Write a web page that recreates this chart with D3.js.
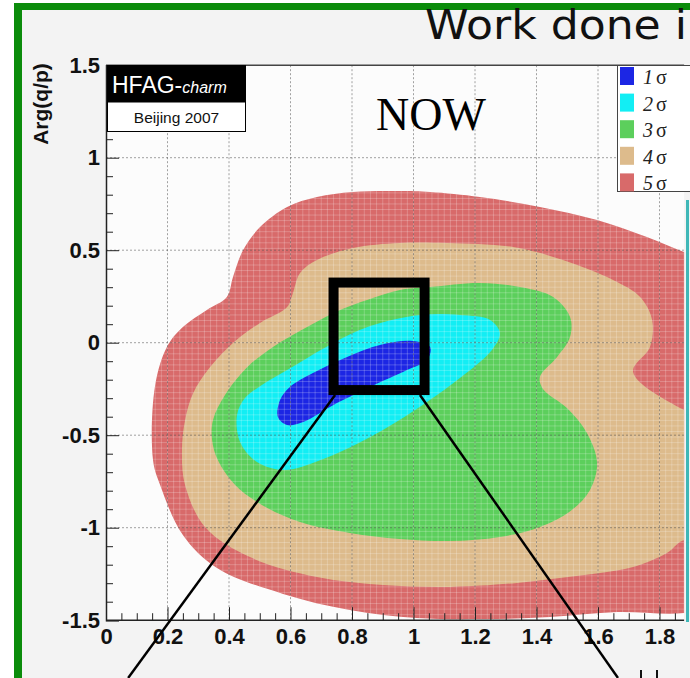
<!DOCTYPE html>
<html><head><meta charset="utf-8">
<script src="https://cdn.jsdelivr.net/npm/d3@7"></script>
<style>
html,body{margin:0;padding:0;background:#fff;}
svg{display:block;}
</style></head><body>
<svg id="chart" width="690" height="678"></svg>
<script>
// Confidence-level regions in the (|q/p|, Arg(q/p)) plane, outline points [x, y]
const sigma5 = [[0.153,-0.636],[0.159,-0.239],[0.198,-0.023],[0.250,0.085],[0.328,0.177],[0.393,0.247],[0.413,0.355],[0.446,0.501],[0.501,0.625],[0.589,0.734],[0.686,0.788],[0.803,0.815],[0.956,0.820],[1.054,0.815],[1.216,0.788],[1.411,0.734],[1.597,0.663],[1.759,0.571],[1.880,0.490],[2.05,0.40],[2.05,-1.40],[1.880,-1.461],[1.662,-1.456],[1.444,-1.483],[1.226,-1.494],[1.011,-1.488],[0.793,-1.445],[0.576,-1.358],[0.361,-1.218],[0.250,-1.040],[0.176,-0.769]];
const sigma4 = [[0.247,-0.580],[0.257,-0.420],[0.283,-0.274],[0.338,-0.133],[0.413,-0.002],[0.501,0.107],[0.589,0.193],[0.608,0.269],[0.631,0.377],[0.686,0.447],[0.803,0.512],[0.956,0.539],[1.109,0.539],[1.324,0.517],[1.486,0.447],[1.649,0.339],[1.737,0.247],[1.776,0.123],[1.769,-0.023],[1.714,-0.158],[1.880,-0.364],[2.05,-0.47],[2.05,-1.01],[1.876,-1.069],[1.824,-1.137],[1.714,-1.213],[1.607,-1.245],[1.476,-1.272],[1.337,-1.299],[1.119,-1.320],[0.901,-1.310],[0.686,-1.267],[0.468,-1.159],[0.322,-0.996],[0.257,-0.769]];
const sigma3 = [[0.348,-0.418],[0.387,-0.283],[0.459,-0.133],[0.543,-0.023],[0.654,0.085],[0.761,0.177],[0.849,0.231],[0.956,0.285],[1.054,0.301],[1.216,0.323],[1.346,0.301],[1.454,0.247],[1.509,0.139],[1.509,0.031],[1.467,-0.077],[1.411,-0.185],[1.421,-0.250],[1.499,-0.353],[1.564,-0.488],[1.597,-0.650],[1.574,-0.796],[1.515,-0.904],[1.411,-0.996],[1.281,-1.050],[1.119,-1.072],[0.956,-1.061],[0.793,-1.028],[0.631,-0.969],[0.507,-0.877],[0.420,-0.769],[0.364,-0.636],[0.345,-0.526]];
const sigma2 = [[0.426,-0.391],[0.452,-0.299],[0.507,-0.229],[0.589,-0.148],[0.728,-0.012],[0.859,0.090],[1.021,0.150],[1.151,0.150],[1.249,0.123],[1.281,0.052],[1.255,-0.039],[1.151,-0.191],[1.005,-0.364],[0.859,-0.510],[0.696,-0.636],[0.582,-0.688],[0.491,-0.645],[0.436,-0.537]];
const sigma1 = [[0.559,-0.402],[0.566,-0.310],[0.598,-0.239],[0.673,-0.164],[0.784,-0.077],[0.891,-0.012],[0.998,0.009],[1.054,-0.023],[1.044,-0.094],[0.979,-0.148],[0.859,-0.239],[0.751,-0.326],[0.641,-0.429],[0.589,-0.445]];

const levelNumbers = ["1","2","3","4","5"];
const levelColors = ["#1c26e4","#12eef4","#5ccf5c","#ddbb8c","#d86a6a"];
const regions = [sigma5, sigma4, sigma3, sigma2, sigma1];
const regionColors = ["#d86a6a","#ddbb8c","#5ccf5c","#12eef4","#1c26e4"];

const xTicks = [0,0.2,0.4,0.6,0.8,1,1.2,1.4,1.6,1.8];
const yTicks = [-1.5,-1,-0.5,0,0.5,1,1.5];

// highlighted zoom window and its guide lines (data units)
const zoomBox = [0.74, -0.256, 1.036, 0.325];
const guideLeft = [[0.745,-0.283],[0.072,-1.812]];
const guideRight = [[1.021,-0.283],[1.665,-1.812]];

const svg = d3.select("#chart");
const W = 690, H = 678;

// slide background and green frame
svg.append("rect").attr("width", W).attr("height", H).attr("fill", "#ffffff");
svg.append("rect").attr("x", 21).attr("y", 10).attr("width", W - 21).attr("height", H - 10).attr("fill", "#f3f3f3");
svg.append("rect").attr("x", 14).attr("y", 3).attr("width", 8).attr("height", H - 3).attr("fill", "#0b8c0b");
svg.append("rect").attr("x", 14).attr("y", 3).attr("width", W - 14).attr("height", 7).attr("fill", "#0b8c0b");

const x = d3.scaleLinear().domain([0, 1.9]).range([106, 106 + 1.9 * 307.5]);
const y = d3.scaleLinear().domain([-1.5, 1.5]).range([620.2, 65.2]);
const xMax = 1.88;

// plot area
svg.append("rect").attr("x", x(0)).attr("y", y(1.5)).attr("width", x(xMax) - x(0)).attr("height", y(-1.5) - y(1.5)).attr("fill", "#fcfcfc");

const defs = svg.append("defs");
defs.append("clipPath").attr("id", "plotClip").append("rect")
  .attr("x", x(0)).attr("y", y(1.5)).attr("width", x(xMax) - x(0)).attr("height", y(-1.5) - y(1.5));

const line = d3.line().x(d => x(d[0])).y(d => y(d[1])).curve(d3.curveCatmullRomClosed.alpha(0.5));
defs.append("clipPath").attr("id", "outerClip").append("path").attr("d", line(sigma5));

const plot = svg.append("g").attr("clip-path", "url(#plotClip)");
plot.selectAll("path.region").data(regions).join("path")
  .attr("class", "region").attr("d", d => line(d)).attr("fill", (d, i) => regionColors[i]);

// histogram bin edges showing faintly through the filled regions
const bins = plot.append("g").attr("clip-path", "url(#outerClip)")
  .attr("stroke", "#ffffff").attr("stroke-opacity", 0.22).attr("stroke-width", 1);
bins.selectAll("line.bx").data(d3.range(0, 96).map(i => i * 0.02)).join("line")
  .attr("x1", d => x(d)).attr("x2", d => x(d)).attr("y1", y(1.5)).attr("y2", y(-1.5));
bins.selectAll("line.by").data(d3.range(0, 101).map(i => -1.5 + i * 0.03)).join("line")
  .attr("y1", d => y(d)).attr("y2", d => y(d)).attr("x1", x(0)).attr("x2", x(2));

// dotted grid
const grid = plot.append("g").attr("stroke", "#555").attr("stroke-opacity", 0.55)
  .attr("stroke-dasharray", "2,2").attr("stroke-width", 1);
grid.selectAll("line.gx").data(xTicks.slice(1)).join("line")
  .attr("x1", d => x(d)).attr("x2", d => x(d)).attr("y1", y(1.5)).attr("y2", y(-1.5));
grid.selectAll("line.gy").data(yTicks.slice(1, -1)).join("line")
  .attr("y1", d => y(d)).attr("y2", d => y(d)).attr("x1", x(0)).attr("x2", x(xMax));

// frame top
svg.append("line").attr("x1", x(0)).attr("x2", x(xMax)).attr("y1", y(1.5)).attr("y2", y(1.5)).attr("stroke", "#444").attr("stroke-width", 1.5);

const fontAxis = "'Liberation Sans', Arial, Helvetica, sans-serif";

// y axis
const yMinor = d3.range(-15, 16).map(i => i / 10).filter(v => !yTicks.some(t => Math.abs(t - v) < 1e-9));
const yAx = svg.append("g").attr("transform", `translate(${x(0)},0)`)
  .call(d3.axisLeft(y).tickValues(yTicks).tickSize(-13).tickPadding(6).tickFormat(d => String(d)));
svg.append("g").attr("transform", `translate(${x(0)},0)`)
  .call(d3.axisLeft(y).tickValues(yMinor).tickSize(-7).tickFormat(""))
  .call(g => g.select(".domain").remove());

// x axis
const xMinor = d3.range(1, 38).map(i => i * 0.05).filter(v => !xTicks.some(t => Math.abs(t - v) < 1e-9));
const xAx = svg.append("g").attr("transform", `translate(0,${y(-1.5)})`)
  .call(d3.axisBottom(x).tickValues(xTicks).tickSize(-13).tickPadding(8).tickFormat(d => String(d)));
svg.append("g").attr("transform", `translate(0,${y(-1.5)})`)
  .call(d3.axisBottom(x).tickValues(xMinor).tickSize(-7).tickFormat(""))
  .call(g => g.select(".domain").remove());
xAx.select(".domain").attr("d", `M${x(0)},0H${x(xMax)}`);

svg.selectAll(".tick line").attr("stroke", "#222");
svg.selectAll(".domain").attr("stroke", "#222").attr("stroke-width", 1.5);
[yAx, xAx].forEach(a => a.selectAll("text").attr("font-family", fontAxis).attr("font-size", 22).attr("font-weight", "bold").attr("fill", "#111"));

// y title
svg.append("text").attr("transform", `translate(48,${y(1.5) - 2}) rotate(-90)`)
  .attr("text-anchor", "end").attr("font-family", fontAxis).attr("font-weight", "bold")
  .attr("font-size", 21).attr("fill", "#111").text("Arg(q/p)");

// HFAG label box
svg.append("rect").attr("x", 107).attr("y", 65).attr("width", 139).attr("height", 37).attr("fill", "#000");
const hf = svg.append("text").attr("x", 112).attr("y", 93).attr("fill", "#fff").attr("font-family", fontAxis);
hf.append("tspan").attr("font-size", 23).text("HFAG-");
hf.append("tspan").attr("font-size", 16).attr("font-style", "italic").text("charm");
svg.append("rect").attr("x", 107.5).attr("y", 102).attr("width", 138).attr("height", 29.5).attr("fill", "#fff").attr("stroke", "#000");
svg.append("text").attr("x", 176.5).attr("y", 123).attr("text-anchor", "middle").attr("font-family", fontAxis)
  .attr("font-size", 15.5).attr("fill", "#111").text("Beijing 2007");

// NOW
svg.append("text").attr("x", 431).attr("y", 130).attr("text-anchor", "middle")
  .attr("font-family", "'Liberation Serif', 'Times New Roman', serif").attr("font-size", 46).attr("fill", "#000").text("NOW");

// legend
const lg = svg.append("g");
lg.append("rect").attr("x", 617.5).attr("y", 65.5).attr("width", 90).attr("height", 126).attr("fill", "#fff").attr("stroke", "#444");
const entries = lg.selectAll("g.entry").data(levelNumbers).join("g").attr("class", "entry")
  .attr("transform", (d, i) => `translate(0,${i * 26.6})`);
entries.append("rect").attr("x", 620).attr("y", 67).attr("width", 14).attr("height", 18).attr("fill", (d, i) => levelColors[i]);
const lt = entries.append("text").attr("x", 643).attr("y", 84)
  .attr("font-family", "'Liberation Serif', 'Times New Roman', serif").attr("font-size", 20).attr("fill", "#222");
lt.append("tspan").attr("font-style", "italic").text(d => d);
lt.append("tspan").attr("dx", 3).text("σ");

// highlighted window with guides
svg.append("rect")
  .attr("x", x(zoomBox[0])).attr("y", y(zoomBox[3]))
  .attr("width", x(zoomBox[2]) - x(zoomBox[0])).attr("height", y(zoomBox[1]) - y(zoomBox[3]))
  .attr("fill", "none").attr("stroke", "#000").attr("stroke-width", 10);
const guide = d3.line().x(d => x(d[0])).y(d => y(d[1]));
[guideLeft, guideRight].forEach(g => svg.append("path").attr("d", guide(g)).attr("stroke", "#000").attr("stroke-width", 2.5).attr("fill", "none"));

// edge of the neighbouring panel
svg.append("line").attr("x1", 687.5).attr("x2", 687.5).attr("y1", 200).attr("y2", 622).attr("stroke", "#3fb7b7").attr("stroke-width", 3);
svg.append("line").attr("x1", 641).attr("x2", 641).attr("y1", 670).attr("y2", 678).attr("stroke", "#111").attr("stroke-width", 2);
svg.append("line").attr("x1", 657).attr("x2", 657).attr("y1", 670).attr("y2", 678).attr("stroke", "#111").attr("stroke-width", 2);

// slide title
svg.append("text").attr("x", 425).attr("y", 39)
  .attr("font-family", "'Comic Sans MS', 'DejaVu Sans', sans-serif").attr("font-size", 40)
  .attr("textLength", 262).attr("lengthAdjust", "spacingAndGlyphs").attr("fill", "#111").text("Work done i");
</script>
</body></html>
